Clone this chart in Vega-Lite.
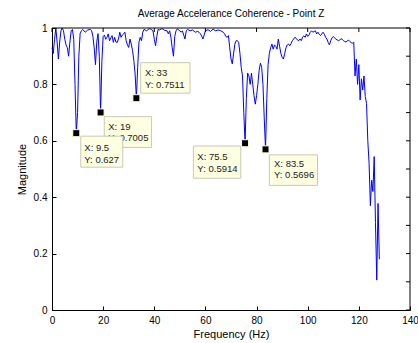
{
  "$schema": "https://vega.github.io/schema/vega-lite/v6.json",
  "width": 358,
  "height": 282,
  "autosize": "none",
  "padding": {"left": 52, "top": 28, "right": 8, "bottom": 33},
  "background": "white",
  "title": {"text": "Average Accelerance Coherence - Point Z", "fontSize": 10, "fontWeight": "normal", "font": "Liberation Sans", "color": "#000", "offset": 4},
  "datasets": {
    "coh": [
      {"freq":0,"mag":0.93},{"freq":0.5,"mag":0.91},{"freq":1,"mag":0.96},{"freq":1.5,"mag":1.0},{"freq":2,"mag":0.95},{"freq":2.5,"mag":0.89},{"freq":3,"mag":0.95},{"freq":3.5,"mag":0.99},{"freq":4,"mag":1.0},{"freq":4.5,"mag":0.99},{"freq":5,"mag":0.96},{"freq":5.5,"mag":0.94},{"freq":6,"mag":0.93},{"freq":6.5,"mag":0.9},{"freq":7,"mag":0.95},{"freq":7.5,"mag":0.99},{"freq":8,"mag":0.995},{"freq":8.5,"mag":0.96},{"freq":9,"mag":0.8},{"freq":9.5,"mag":0.627},{"freq":10,"mag":0.7},{"freq":10.5,"mag":0.9},{"freq":11,"mag":0.98},{"freq":11.5,"mag":0.99},{"freq":12,"mag":0.995},{"freq":13,"mag":0.985},{"freq":14,"mag":0.993},{"freq":15,"mag":0.995},{"freq":15.5,"mag":0.99},{"freq":16,"mag":0.97},{"freq":16.5,"mag":0.93},{"freq":17,"mag":0.87},{"freq":17.5,"mag":0.95},{"freq":18,"mag":0.98},{"freq":18.5,"mag":0.9},{"freq":19,"mag":0.7005},{"freq":19.5,"mag":0.88},{"freq":20,"mag":0.97},{"freq":20.5,"mag":0.975},{"freq":21,"mag":0.96},{"freq":21.5,"mag":0.967},{"freq":22,"mag":0.979},{"freq":22.5,"mag":0.955},{"freq":23,"mag":0.965},{"freq":23.5,"mag":0.973},{"freq":24,"mag":0.949},{"freq":24.5,"mag":0.967},{"freq":25,"mag":0.95},{"freq":25.5,"mag":0.949},{"freq":26,"mag":0.961},{"freq":26.5,"mag":0.985},{"freq":27,"mag":0.967},{"freq":27.5,"mag":0.975},{"freq":28,"mag":0.979},{"freq":28.5,"mag":0.985},{"freq":29,"mag":0.955},{"freq":29.5,"mag":0.94},{"freq":30,"mag":0.931},{"freq":30.5,"mag":0.961},{"freq":31,"mag":0.943},{"freq":31.5,"mag":0.92},{"freq":32,"mag":0.884},{"freq":32.5,"mag":0.837},{"freq":33,"mag":0.7511},{"freq":33.5,"mag":0.86},{"freq":34,"mag":0.95},{"freq":34.5,"mag":0.967},{"freq":35,"mag":0.955},{"freq":35.5,"mag":0.985},{"freq":36,"mag":0.995},{"freq":37,"mag":0.99},{"freq":38,"mag":0.998},{"freq":39,"mag":0.994},{"freq":39.5,"mag":0.99},{"freq":40,"mag":0.96},{"freq":40.5,"mag":0.937},{"freq":41,"mag":0.97},{"freq":41.5,"mag":0.995},{"freq":42,"mag":0.993},{"freq":43,"mag":0.998},{"freq":44,"mag":0.992},{"freq":45,"mag":0.99},{"freq":45.5,"mag":0.979},{"freq":46,"mag":0.99},{"freq":46.5,"mag":0.967},{"freq":47,"mag":0.93},{"freq":47.5,"mag":0.9},{"freq":48,"mag":0.97},{"freq":48.5,"mag":0.99},{"freq":49,"mag":0.997},{"freq":50,"mag":0.99},{"freq":50.5,"mag":0.985},{"freq":51,"mag":0.99},{"freq":51.5,"mag":0.975},{"freq":52,"mag":0.961},{"freq":52.5,"mag":0.99},{"freq":53,"mag":0.995},{"freq":54,"mag":0.99},{"freq":55,"mag":0.993},{"freq":56,"mag":0.985},{"freq":57,"mag":0.988},{"freq":57.5,"mag":0.985},{"freq":58,"mag":0.98},{"freq":58.5,"mag":0.972},{"freq":59,"mag":0.961},{"freq":59.5,"mag":0.975},{"freq":60,"mag":0.99},{"freq":61,"mag":0.994},{"freq":62,"mag":0.988},{"freq":63,"mag":0.996},{"freq":64,"mag":0.99},{"freq":65,"mag":0.993},{"freq":66,"mag":0.99},{"freq":67,"mag":0.985},{"freq":67.5,"mag":0.979},{"freq":68,"mag":0.97},{"freq":68.5,"mag":0.967},{"freq":69,"mag":0.973},{"freq":69.5,"mag":0.93},{"freq":70,"mag":0.89},{"freq":70.5,"mag":0.873},{"freq":71,"mag":0.908},{"freq":71.5,"mag":0.943},{"freq":72,"mag":0.955},{"freq":72.5,"mag":0.955},{"freq":73,"mag":0.949},{"freq":73.5,"mag":0.91},{"freq":74,"mag":0.86},{"freq":74.5,"mag":0.83},{"freq":75,"mag":0.7},{"freq":75.5,"mag":0.5914},{"freq":76,"mag":0.75},{"freq":76.5,"mag":0.84},{"freq":77,"mag":0.83},{"freq":77.5,"mag":0.8},{"freq":78,"mag":0.84},{"freq":78.5,"mag":0.8},{"freq":79,"mag":0.76},{"freq":79.5,"mag":0.73},{"freq":80,"mag":0.76},{"freq":80.5,"mag":0.8},{"freq":81,"mag":0.85},{"freq":81.5,"mag":0.875},{"freq":82,"mag":0.86},{"freq":82.5,"mag":0.8},{"freq":83,"mag":0.68},{"freq":83.5,"mag":0.5696},{"freq":84,"mag":0.75},{"freq":84.5,"mag":0.87},{"freq":85,"mag":0.91},{"freq":85.5,"mag":0.93},{"freq":86,"mag":0.943},{"freq":86.5,"mag":0.925},{"freq":87,"mag":0.94},{"freq":87.5,"mag":0.935},{"freq":88,"mag":0.925},{"freq":88.5,"mag":0.961},{"freq":89,"mag":0.935},{"freq":89.5,"mag":0.91},{"freq":90,"mag":0.896},{"freq":90.5,"mag":0.89},{"freq":91,"mag":0.91},{"freq":91.5,"mag":0.93},{"freq":92,"mag":0.94},{"freq":92.5,"mag":0.943},{"freq":93,"mag":0.937},{"freq":93.5,"mag":0.945},{"freq":94,"mag":0.955},{"freq":94.5,"mag":0.961},{"freq":95,"mag":0.967},{"freq":95.5,"mag":0.963},{"freq":96,"mag":0.957},{"freq":96.5,"mag":0.955},{"freq":97,"mag":0.961},{"freq":97.5,"mag":0.955},{"freq":98,"mag":0.968},{"freq":98.5,"mag":0.972},{"freq":99,"mag":0.967},{"freq":99.5,"mag":0.979},{"freq":100,"mag":0.97},{"freq":100.5,"mag":0.975},{"freq":101,"mag":0.985},{"freq":101.5,"mag":0.99},{"freq":102,"mag":0.985},{"freq":102.5,"mag":0.988},{"freq":103,"mag":0.99},{"freq":103.5,"mag":0.979},{"freq":104,"mag":0.985},{"freq":104.5,"mag":0.978},{"freq":105,"mag":0.973},{"freq":105.5,"mag":0.979},{"freq":106,"mag":0.985},{"freq":106.5,"mag":0.978},{"freq":107,"mag":0.967},{"freq":107.5,"mag":0.961},{"freq":108,"mag":0.949},{"freq":108.5,"mag":0.94},{"freq":109,"mag":0.955},{"freq":109.5,"mag":0.965},{"freq":110,"mag":0.97},{"freq":110.5,"mag":0.965},{"freq":111,"mag":0.96},{"freq":111.5,"mag":0.958},{"freq":112,"mag":0.955},{"freq":112.5,"mag":0.957},{"freq":113,"mag":0.962},{"freq":113.5,"mag":0.96},{"freq":114,"mag":0.955},{"freq":114.5,"mag":0.952},{"freq":115,"mag":0.95},{"freq":115.5,"mag":0.955},{"freq":116,"mag":0.957},{"freq":116.5,"mag":0.952},{"freq":117,"mag":0.948},{"freq":117.5,"mag":0.946},{"freq":118,"mag":0.95},{"freq":118.5,"mag":0.83},{"freq":119,"mag":0.89},{"freq":119.5,"mag":0.8},{"freq":120,"mag":0.87},{"freq":120.5,"mag":0.745},{"freq":121,"mag":0.82},{"freq":121.5,"mag":0.78},{"freq":122,"mag":0.83},{"freq":122.5,"mag":0.757},{"freq":123,"mag":0.733},{"freq":123.5,"mag":0.6},{"freq":124,"mag":0.52},{"freq":124.5,"mag":0.37},{"freq":125,"mag":0.46},{"freq":125.5,"mag":0.42},{"freq":126,"mag":0.544},{"freq":126.5,"mag":0.31},{"freq":127,"mag":0.106},{"freq":127.5,"mag":0.378},{"freq":128,"mag":0.18}
    ],
    "tips": [
      {"tip":"9.5","freq":9.5,"mag":0.627,"label":"X: 9.5\nY: 0.627"},
      {"tip":"19","freq":19,"mag":0.7005,"label":"X: 19\nY: 0.7005"},
      {"tip":"33","freq":33,"mag":0.7511,"label":"X: 33\nY: 0.7511"},
      {"tip":"75.5","freq":75.5,"mag":0.5914,"label":"X: 75.5\nY: 0.5914"},
      {"tip":"83.5","freq":83.5,"mag":0.5696,"label":"X: 83.5\nY: 0.5696"}
    ],
    "xticks": [{"v":0},{"v":20},{"v":40},{"v":60},{"v":80},{"v":100},{"v":120},{"v":140}],
    "yticks": [{"v":0},{"v":0.1},{"v":0.2},{"v":0.3},{"v":0.4},{"v":0.5},{"v":0.6},{"v":0.7},{"v":0.8},{"v":0.9},{"v":1}]
  },
  "layer": [
    {
      "data": {"name": "coh"},
      "mark": {"type": "line", "color": "#0000ff", "strokeWidth": 1},
      "encoding": {
        "x": {"field": "freq", "type": "quantitative", "scale": {"domain": [0, 140], "nice": false},
              "axis": {"values": [0,20,40,60,80,100,120,140], "title": "Frequency (Hz)", "labelFlush": false, "labelOverlap": false, "titlePadding": 3}},
        "y": {"field": "mag", "type": "quantitative", "scale": {"domain": [0, 1], "nice": false},
              "axis": {"values": [0,0.1,0.2,0.3,0.4,0.5,0.6,0.7,0.8,0.9,1], "format": "~g", "labelOverlap": false, "title": "Magnitude", "titlePadding": 6}}
      }
    },
    {
      "data": {"name": "tips"}, "transform": [{"filter": "datum.tip == '19'"}],
      "mark": {"type": "rect", "fill": "#ffffe1", "stroke": "#c8c8b4", "strokeWidth": 1, "xOffset": 3.7, "x2Offset": 51, "yOffset": 4.2, "y2Offset": 35},
      "encoding": {"x": {"field": "freq", "type": "quantitative"}, "x2": {"field": "freq"}, "y": {"field": "mag", "type": "quantitative"}, "y2": {"field": "mag"}}
    },
    {
      "data": {"name": "tips"}, "transform": [{"filter": "datum.tip == '19'"}],
      "mark": {"type": "text", "align": "left", "baseline": "top", "dx": 7.7, "dy": 9.5, "lineBreak": "\n", "lineHeight": 11.5, "fontSize": 9.5, "font": "Liberation Sans", "color": "#222"},
      "encoding": {"x": {"field": "freq", "type": "quantitative"}, "y": {"field": "mag", "type": "quantitative"}, "text": {"field": "label"}}
    },
    {
      "data": {"name": "tips"}, "transform": [{"filter": "datum.tip == '9.5'"}],
      "mark": {"type": "rect", "fill": "#ffffe1", "stroke": "#c8c8b4", "strokeWidth": 1, "xOffset": 4.5, "x2Offset": 46.5, "yOffset": 3, "y2Offset": 34},
      "encoding": {"x": {"field": "freq", "type": "quantitative"}, "x2": {"field": "freq"}, "y": {"field": "mag", "type": "quantitative"}, "y2": {"field": "mag"}}
    },
    {
      "data": {"name": "tips"}, "transform": [{"filter": "datum.tip == '9.5'"}],
      "mark": {"type": "text", "align": "left", "baseline": "top", "dx": 8, "dy": 10, "lineBreak": "\n", "lineHeight": 11.5, "fontSize": 9.5, "font": "Liberation Sans", "color": "#222"},
      "encoding": {"x": {"field": "freq", "type": "quantitative"}, "y": {"field": "mag", "type": "quantitative"}, "text": {"field": "label"}}
    },
    {
      "data": {"name": "tips"}, "transform": [{"filter": "datum.tip == '33'"}],
      "mark": {"type": "rect", "fill": "#ffffe1", "stroke": "#c8c8b4", "strokeWidth": 1, "xOffset": 4.3, "x2Offset": 53.6, "yOffset": -35.5, "y2Offset": -5},
      "encoding": {"x": {"field": "freq", "type": "quantitative"}, "x2": {"field": "freq"}, "y": {"field": "mag", "type": "quantitative"}, "y2": {"field": "mag"}}
    },
    {
      "data": {"name": "tips"}, "transform": [{"filter": "datum.tip == '33'"}],
      "mark": {"type": "text", "align": "left", "baseline": "top", "dx": 8.6, "dy": -30, "lineBreak": "\n", "lineHeight": 11.5, "fontSize": 9.5, "font": "Liberation Sans", "color": "#222"},
      "encoding": {"x": {"field": "freq", "type": "quantitative"}, "y": {"field": "mag", "type": "quantitative"}, "text": {"field": "label"}}
    },
    {
      "data": {"name": "tips"}, "transform": [{"filter": "datum.tip == '75.5'"}],
      "mark": {"type": "rect", "fill": "#ffffe1", "stroke": "#c8c8b4", "strokeWidth": 1, "xOffset": -51.7, "x2Offset": -4.3, "yOffset": 2.8, "y2Offset": 35},
      "encoding": {"x": {"field": "freq", "type": "quantitative"}, "x2": {"field": "freq"}, "y": {"field": "mag", "type": "quantitative"}, "y2": {"field": "mag"}}
    },
    {
      "data": {"name": "tips"}, "transform": [{"filter": "datum.tip == '75.5'"}],
      "mark": {"type": "text", "align": "left", "baseline": "top", "dx": -47.7, "dy": 8.8, "lineBreak": "\n", "lineHeight": 11.5, "fontSize": 9.5, "font": "Liberation Sans", "color": "#222"},
      "encoding": {"x": {"field": "freq", "type": "quantitative"}, "y": {"field": "mag", "type": "quantitative"}, "text": {"field": "label"}}
    },
    {
      "data": {"name": "tips"}, "transform": [{"filter": "datum.tip == '83.5'"}],
      "mark": {"type": "rect", "fill": "#ffffe1", "stroke": "#c8c8b4", "strokeWidth": 1, "xOffset": 3.8, "x2Offset": 52, "yOffset": 5.5, "y2Offset": 36},
      "encoding": {"x": {"field": "freq", "type": "quantitative"}, "x2": {"field": "freq"}, "y": {"field": "mag", "type": "quantitative"}, "y2": {"field": "mag"}}
    },
    {
      "data": {"name": "tips"}, "transform": [{"filter": "datum.tip == '83.5'"}],
      "mark": {"type": "text", "align": "left", "baseline": "top", "dx": 8.5, "dy": 9.6, "lineBreak": "\n", "lineHeight": 11.5, "fontSize": 9.5, "font": "Liberation Sans", "color": "#222"},
      "encoding": {"x": {"field": "freq", "type": "quantitative"}, "y": {"field": "mag", "type": "quantitative"}, "text": {"field": "label"}}
    },
    {
      "data": {"name": "tips"},
      "mark": {"type": "point", "shape": "square", "filled": true, "size": 49, "color": "#000", "stroke": "#ffffd0", "strokeWidth": 1, "opacity": 1},
      "encoding": {"x": {"field": "freq", "type": "quantitative"}, "y": {"field": "mag", "type": "quantitative"}}
    },
    {
      "data": {"name": "xticks"},
      "mark": {"type": "rule", "color": "#000", "strokeWidth": 1, "y2Offset": 4},
      "encoding": {"x": {"field": "v", "type": "quantitative"}, "y": {"datum": 1}, "y2": {"datum": 1}}
    },
    {
      "data": {"name": "yticks"},
      "mark": {"type": "rule", "color": "#000", "strokeWidth": 1, "x2Offset": -4},
      "encoding": {"y": {"field": "v", "type": "quantitative"}, "x": {"datum": 140}, "x2": {"datum": 140}}
    },
    {
      "data": {"values": [{}]},
      "mark": {"type": "rule", "color": "#000", "strokeWidth": 1},
      "encoding": {"x": {"datum": 0}, "x2": {"datum": 140}, "y": {"datum": 1}}
    },
    {
      "data": {"values": [{}]},
      "mark": {"type": "rule", "color": "#000", "strokeWidth": 1},
      "encoding": {"x": {"datum": 140}, "y": {"datum": 0}, "y2": {"datum": 1}}
    }
  ],
  "config": {
    "view": {"stroke": null},
    "font": "Liberation Sans",
    "axis": {
      "grid": false,
      "domainColor": "#000",
      "domainWidth": 1,
      "tickColor": "#000",
      "tickWidth": 1,
      "tickSize": -4,
      "labelPadding": 9,
      "labelColor": "#000",
      "labelFont": "Liberation Sans",
      "labelFontSize": 10,
      "titleFont": "Liberation Sans",
      "titleFontSize": 11,
      "titleFontWeight": "normal",
      "titleColor": "#000"
    }
  }
}
